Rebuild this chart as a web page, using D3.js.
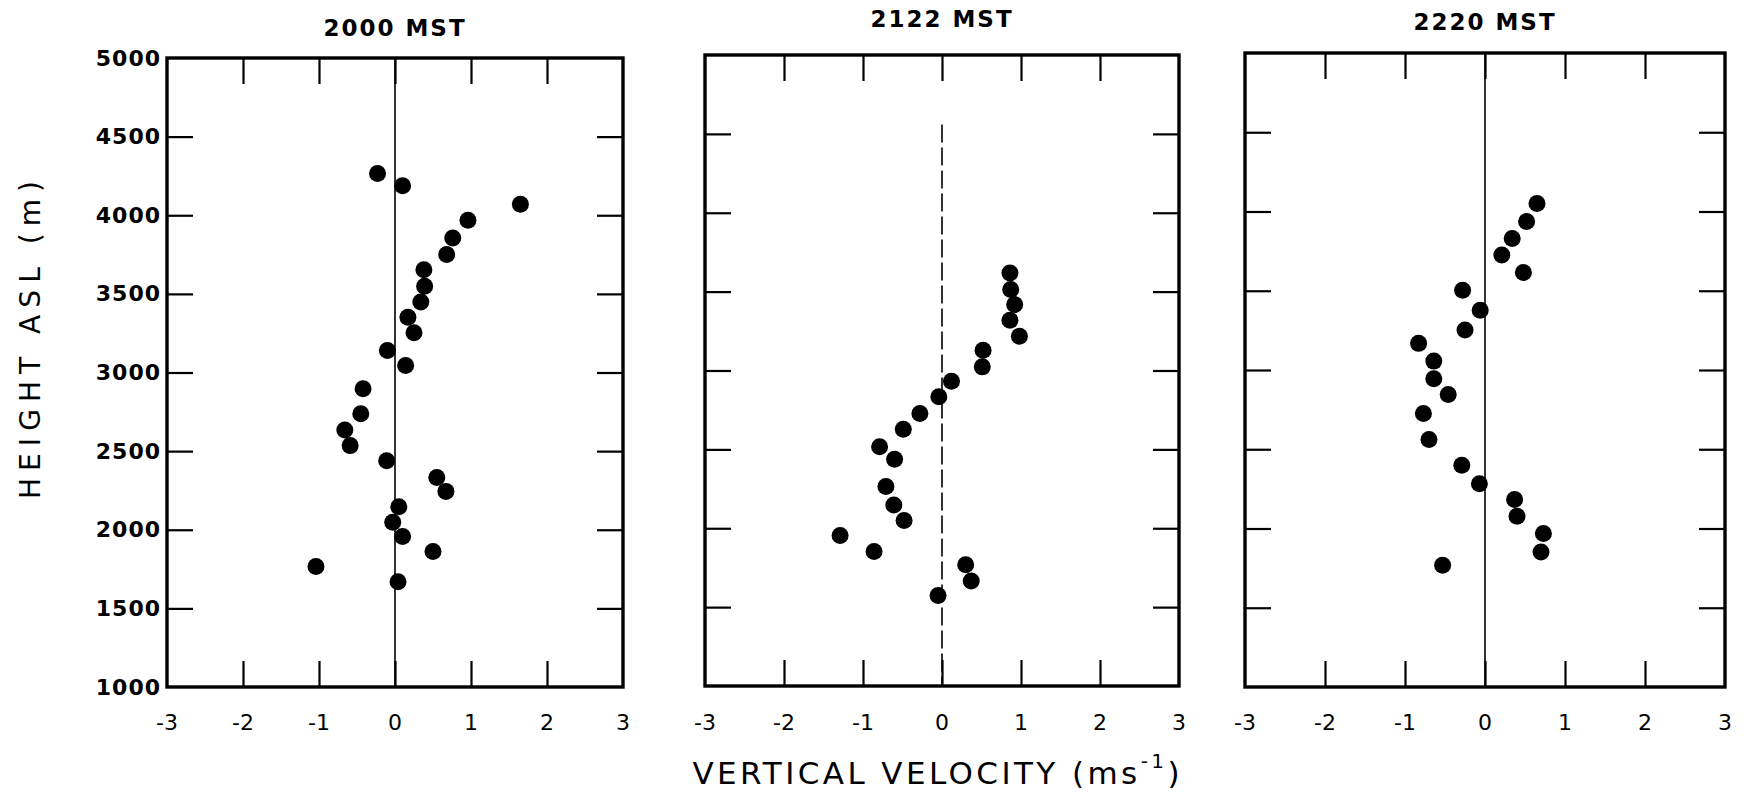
<!DOCTYPE html>
<html>
<head>
<meta charset="utf-8">
<script src="https://cdn.jsdelivr.net/npm/d3@7"></script>
<style>
  body { margin: 0; background: #fff; }
  svg { display: block; }
</style>
</head>
<body>
<svg id="chart" width="1752" height="794"></svg>
<script>
// ---- data ----
const panelTitles = ["2000 MST", "2122 MST", "2220 MST"];
const xTicks = [-3, -2, -1, 0, 1, 2, 3];
const yTicks = [1000, 1500, 2000, 2500, 3000, 3500, 4000, 4500, 5000];

const v2000 = [-0.23, 0.10, 1.65, 0.96, 0.76, 0.68, 0.38, 0.39, 0.34, 0.17, 0.25, -0.10, 0.14, -0.42, -0.45, -0.66, -0.59, -0.11, 0.55, 0.67, 0.05, -0.03, 0.10, 0.50, -1.04, 0.04];
const h2000 = [4266, 4187, 4070, 3968, 3856, 3750, 3654, 3548, 3448, 3352, 3253, 3140, 3045, 2896, 2737, 2635, 2535, 2439, 2333, 2244, 2146, 2047, 1957, 1862, 1766, 1669];

const v2122 = [0.86, 0.87, 0.92, 0.86, 0.98, 0.52, 0.51, 0.12, -0.04, -0.28, -0.49, -0.79, -0.60, -0.71, -0.61, -0.48, -1.29, -0.86, 0.30, 0.37, -0.05];
const h2122 = [3618, 3513, 3418, 3318, 3217, 3129, 3023, 2932, 2833, 2728, 2628, 2517, 2437, 2264, 2148, 2049, 1954, 1852, 1768, 1666, 1574];

const v2220 = [0.65, 0.52, 0.34, 0.21, 0.48, -0.28, -0.06, -0.25, -0.83, -0.64, -0.64, -0.46, -0.77, -0.70, -0.29, -0.07, 0.37, 0.40, 0.73, 0.70, -0.53];
const h2220 = [4051, 3937, 3829, 3726, 3615, 3503, 3377, 3252, 3168, 3056, 2945, 2846, 2726, 2562, 2399, 2282, 2183, 2077, 1968, 1852, 1768];

const seriesV = [v2000, v2122, v2220];
const seriesH = [h2000, h2122, h2220];

// ---- layout ----
const frames = [
  { left: 167, right: 623, top: 58, bottom: 687, zeroTop: 5000, zeroDash: null, titleY: 28 },
  { left: 705, right: 1179, top: 55, bottom: 686, zeroTop: 4560, zeroDash: "18,5", titleY: 19 },
  { left: 1245, right: 1725, top: 53, bottom: 687, zeroTop: 5000, zeroDash: null, titleY: 22 }
];

const svg = d3.select("#chart");
const tickLen = 26;

frames.forEach((f, i) => {
  const x = d3.scaleLinear().domain([-3, 3]).range([f.left, f.right]);
  const y = d3.scaleLinear().domain([1000, 5000]).range([f.bottom, f.top]);
  const g = svg.append("g");

  // zero line
  g.append("line")
    .attr("x1", x(0)).attr("x2", x(0))
    .attr("y1", y(f.zeroTop)).attr("y2", y(1000))
    .attr("stroke", "#000").attr("stroke-width", 1.6)
    .attr("stroke-dasharray", f.zeroDash);

  // inner ticks via axes
  const inner = xTicks.filter(d => d > -3 && d < 3);
  const innerY = yTicks.filter(d => d > 1000 && d < 5000);
  const axB = d3.axisTop(x).tickValues(inner).tickSize(tickLen).tickFormat("");
  const axT = d3.axisBottom(x).tickValues(inner).tickSize(tickLen).tickFormat("");
  const axL = d3.axisRight(y).tickValues(innerY).tickSize(tickLen).tickFormat("");
  const axR = d3.axisLeft(y).tickValues(innerY).tickSize(tickLen).tickFormat("");
  [[axB, `translate(0,${f.bottom})`], [axT, `translate(0,${f.top})`],
   [axL, `translate(${f.left},0)`], [axR, `translate(${f.right},0)`]].forEach(([ax, tr]) => {
    const a = g.append("g").attr("transform", tr).call(ax);
    a.select(".domain").remove();
    a.selectAll("line").attr("stroke", "#000").attr("stroke-width", 2.2);
  });

  // frame
  g.append("rect")
    .attr("x", x(-3)).attr("y", y(5000))
    .attr("width", x(3) - x(-3)).attr("height", y(1000) - y(5000))
    .attr("fill", "none").attr("stroke", "#000").attr("stroke-width", 3.4);

  // x tick labels
  g.selectAll("text.xt").data(xTicks).enter().append("text")
    .attr("class", "xt")
    .attr("x", d => x(d)).attr("y", 722)
    .attr("text-anchor", "middle").attr("dominant-baseline", "central")
    .attr("font-family", "DejaVu Sans, sans-serif").attr("font-size", 22)
    .attr("fill", "#000")
    .text(d => d < 0 ? "-" + Math.abs(d) : String(d));

  // y tick labels (first panel only)
  if (i === 0) {
    g.selectAll("text.yt").data(yTicks).enter().append("text")
      .attr("class", "yt")
      .attr("x", 161).attr("y", d => y(d))
      .attr("text-anchor", "end").attr("dominant-baseline", "central")
      .attr("font-family", "DejaVu Sans, sans-serif").attr("font-weight", "bold")
      .attr("font-size", 22).attr("letter-spacing", 1)
      .attr("fill", "#000")
      .text(d => d);
  }

  // title
  g.append("text")
    .attr("x", (f.left + f.right) / 2 - 0).attr("y", f.titleY)
    .attr("text-anchor", "middle").attr("dominant-baseline", "central")
    .attr("font-family", "DejaVu Sans, sans-serif").attr("font-weight", "bold")
    .attr("font-size", 23).attr("letter-spacing", 2)
    .attr("fill", "#000")
    .text(panelTitles[i]);

  // points
  const pts = seriesV[i].map((v, k) => ({ v, h: seriesH[i][k] }));
  g.selectAll("circle").data(pts).enter().append("circle")
    .attr("cx", d => x(d.v)).attr("cy", d => y(d.h))
    .attr("r", 8.5).attr("fill", "#000");
});

// axis titles
const xt = svg.append("text")
  .attr("x", 936).attr("y", 773)
  .attr("text-anchor", "middle").attr("dominant-baseline", "central")
  .attr("font-family", "DejaVu Sans, sans-serif").attr("font-weight", "normal")
  .attr("font-size", 31).attr("fill", "#000")
  .attr("textLength", 487).attr("lengthAdjust", "spacing");
xt.append("tspan").text("VERTICAL  VELOCITY  (ms");
xt.append("tspan").attr("font-size", 20).attr("dy", -12).text("-1");
xt.append("tspan").attr("dy", 12).text(")");

svg.append("text")
  .attr("transform", "translate(30,340) rotate(-90)")
  .attr("text-anchor", "middle").attr("dominant-baseline", "central")
  .attr("font-family", "DejaVu Sans, sans-serif").attr("font-weight", "normal")
  .attr("font-size", 28).attr("fill", "#000")
  .attr("textLength", 318).attr("lengthAdjust", "spacing")
  .text("HEIGHT ASL (m)");
</script>
</body>
</html>
